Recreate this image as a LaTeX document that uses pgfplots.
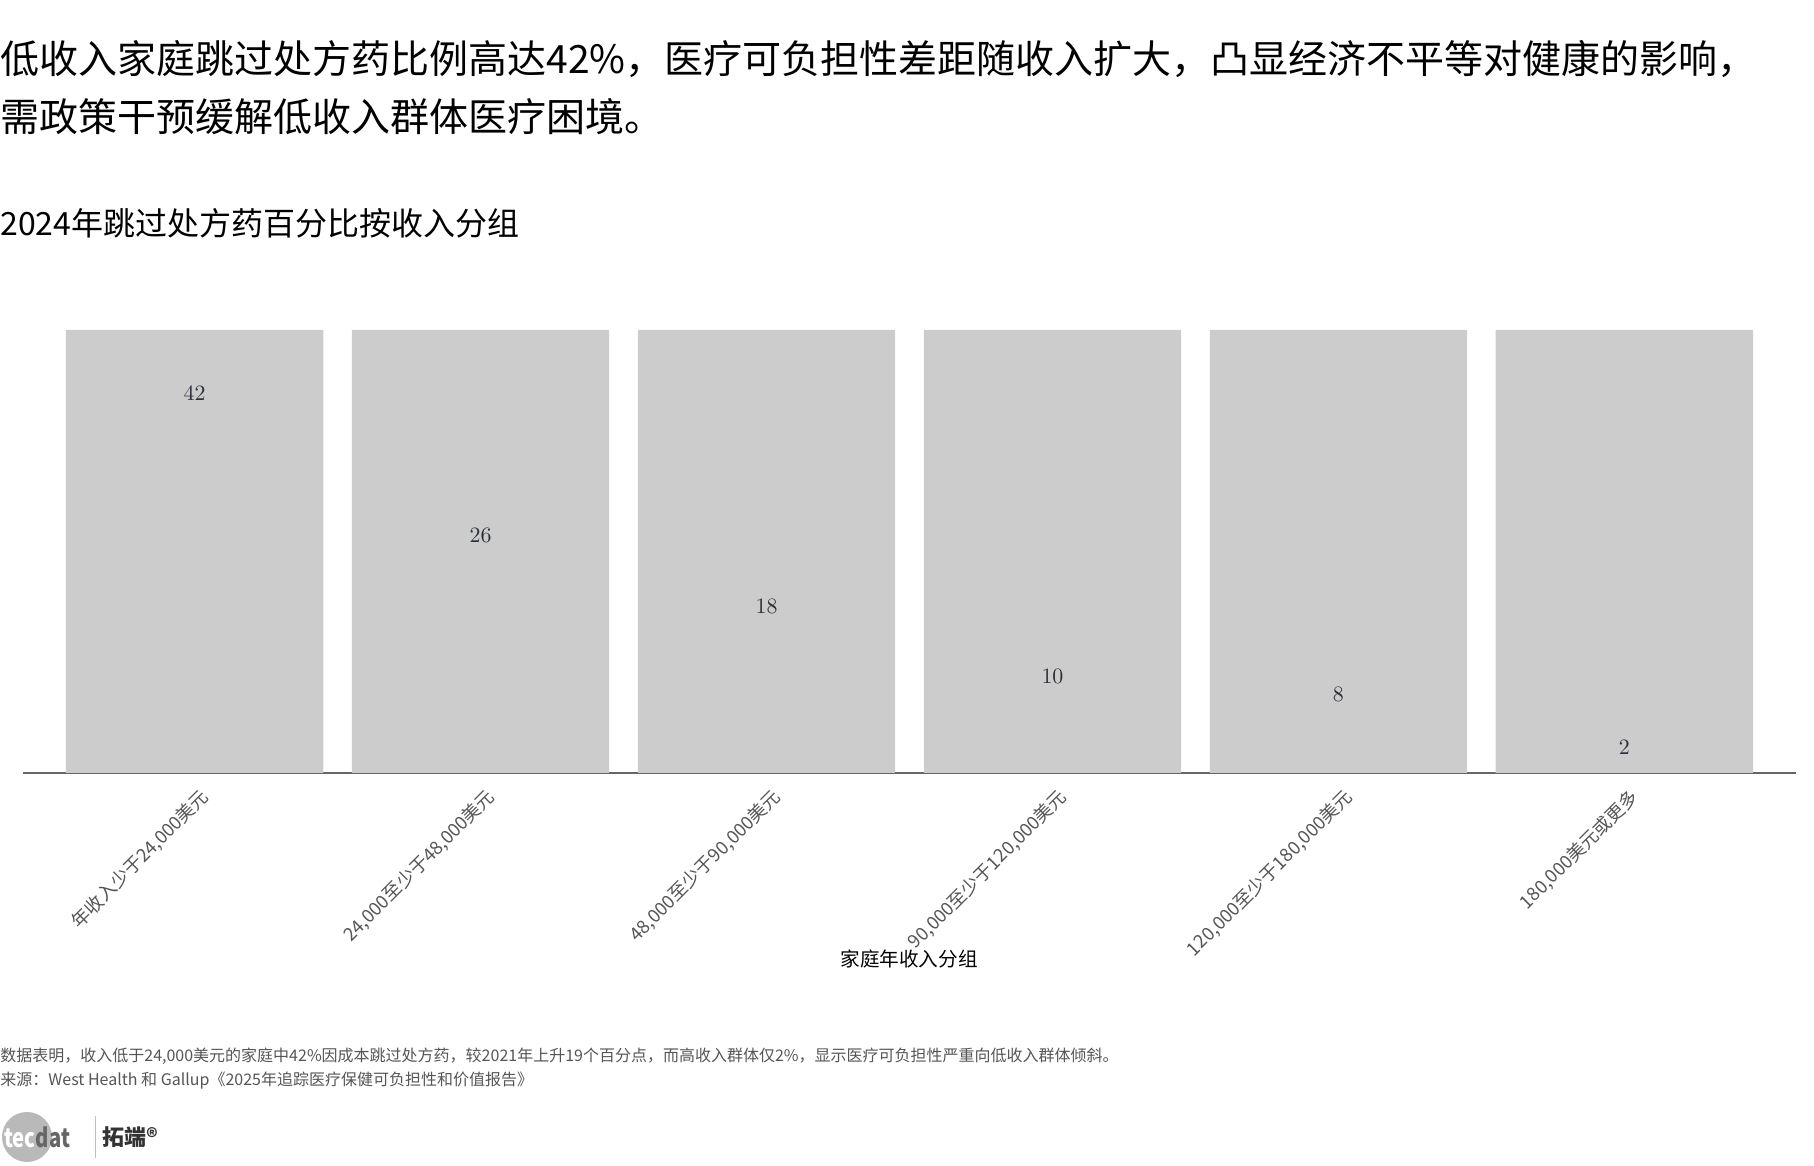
\documentclass[border=0pt]{standalone}
\usepackage{fontspec}
\setmainfont{Noto Sans CJK SC}
\usepackage{pgfplots}
\pgfplotsset{compat=1.18}
\definecolor{barg}{HTML}{CCCCCC}
\definecolor{axisg}{HTML}{666666}
\definecolor{ticktxt}{HTML}{555555}
\definecolor{lbl}{HTML}{2B3038}

\begin{document}
\begin{tikzpicture}[x=1pt,y=1pt]
\useasboundingbox (0,0) rectangle (907,583);

% titles
\node[anchor=base west, inner sep=0, font=\fontsize{19.5}{24}\selectfont] at (0,546)
  {低收入家庭跳过处方药比例高达42\%，医疗可负担性差距随收入扩大，凸显经济不平等对健康的影响，};
\node[anchor=base west, inner sep=0, font=\fontsize{19.5}{24}\selectfont] at (0,517)
  {需政策干预缓解低收入群体医疗困境。};
\node[anchor=base west, inner sep=0, font=\fontsize{16}{20}\selectfont] at (0,465)
  {2024年跳过处方药百分比按收入分组};

\begin{axis}[
  at={(11.5pt,196.5pt)}, anchor=south west,
  scale only axis, width=886.5pt, height=221.5pt,
  xmin=-0.6, xmax=5.6, ymin=0, ymax=50,
  ybar, bar width=0.9,
  axis x line*=bottom, axis y line=none,
  x axis line style={draw=axisg, line width=1.2pt},
  xtick={0,1,2,3,4,5},
  xticklabels={{年收入少于24,000美元},{24,000至少于48,000美元},{48,000至少于90,000美元},
               {90,000至少于120,000美元},{120,000至少于180,000美元},{180,000美元或更多}},
  major tick length=0pt,
  xticklabel style={rotate=45, anchor=north east, font=\fontsize{9.2}{11}\selectfont,
                    text=ticktxt, yshift=-3pt},
  clip=false,
]
% full-height background bars
\addplot[fill=barg, draw=none, bar shift=0pt] coordinates
  {(0,50) (1,50) (2,50) (3,50) (4,50) (5,50)};
% values, shown as labels only
\addplot[draw=none, fill=none, bar shift=0pt,
  nodes near coords,
  every node near coord/.append style={anchor=south, inner sep=0pt,
     font=\fontsize{10.5}{12}\selectfont, text=lbl}] coordinates
  {(0,42) (1,26) (2,18) (3,10) (4,8) (5,2)};
\end{axis}

\node[anchor=base, inner sep=0, font=\fontsize{9.8}{12}\selectfont] at (454.5,99.5) {家庭年收入分组};

% notes
\node[anchor=base west, inner sep=0, text=ticktxt, font=\fontsize{8}{10}\selectfont] at (0,52)
  {数据表明，收入低于24,000美元的家庭中42\%因成本跳过处方药，较2021年上升19个百分点，而高收入群体仅2\%，显示医疗可负担性严重向低收入群体倾斜。};
\node[anchor=base west, inner sep=0, text=ticktxt, font=\fontsize{8}{10}\selectfont] at (0,40)
  {来源：West Health 和 Gallup《2025年追踪医疗保健可负担性和价值报告》};

% logo
\fill[gray!55] (13.5,14.5) circle (12.5);
\node[anchor=west, inner sep=0, xscale=0.78, font=\fontsize{13}{14}\selectfont\bfseries] at (2,14.5)
  {\textcolor{white}{tec}\textcolor{gray!80!black}{dat}};
\draw[gray!50, line width=0.5pt] (47.5,4) -- (47.5,25);
\node[anchor=west, inner sep=0, font=\fontsize{11}{12}\selectfont\bfseries, text=black!80] at (51,14.5)
  {拓端®};
\end{tikzpicture}
\end{document}
